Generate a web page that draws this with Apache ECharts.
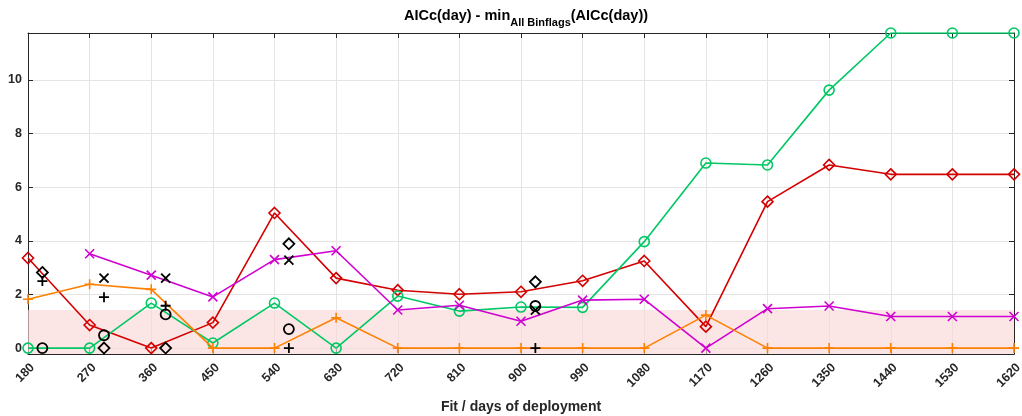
<!DOCTYPE html>
<html><head><meta charset="utf-8">
<script src="https://cdn.jsdelivr.net/npm/echarts@6/dist/echarts.min.js"></script>
<style>html,body{margin:0;padding:0;background:#fff}#c{width:1022px;height:416px}</style>
</head><body><div id="c"></div>
<script>
var days = [180,270,360,450,540,630,720,810,900,990,1080,1170,1260,1350,1440,1530,1620];
var greenCircle = [0,0,1.68,0.19,1.68,0,1.94,1.38,1.53,1.52,3.97,6.9,6.83,9.62,11.75,11.75,11.75];
var redDiamond = [3.36,0.86,0,0.95,5.04,2.61,2.16,2.01,2.1,2.51,3.25,0.8,5.46,6.83,6.48,6.48,6.48];
var magentaX = [null,3.52,2.72,1.91,3.3,3.63,1.42,1.6,1.0,1.79,1.82,0,1.47,1.57,1.18,1.18,1.18];
var orangePlus = [1.82,2.38,2.19,0,0,1.13,0,0,0,0,0,1.23,0,0,0,0,0];
var blackDays = [201,291,381,561,921];
var blackCircle = [0,0.48,1.26,0.71,1.57];
var blackDiamond = [2.82,0,0,3.89,2.47];
var blackX = [null,2.61,2.61,3.28,1.42];
var blackPlus = [2.5,1.9,1.58,0,0];
var yTicks = [0,2,4,6,8,10];
var bandTop = 1.42;

var crossPath = 'path://M0,0L10,10M10,0L0,10';
var plusPath = 'path://M5,0L5,10M0,5L10,5';
function pairs(xs, ys){ return xs.map(function(x,i){ return [x, ys[i]]; }); }
var chart = echarts.init(document.getElementById('c'));
var font = 'Liberation Sans, Arial, Helvetica, sans-serif';
var clear = 'rgba(0,0,0,0)';
function lineSeries(name, ys, color, symbol, size, z, hollow){
  return {name:name, type:'line', data:pairs(days, ys), connectNulls:false, z:z,
    symbol:symbol, symbolSize:size, showSymbol:true,
    lineStyle:{color:color, width:1.6},
    itemStyle:{color: hollow ? clear : color, borderColor:color, borderWidth:1.6, opacity:1},
    emphasis:{disabled:true}, animation:false};
}
function blackSeries(name, ys, symbol, size, hollow){
  return {name:name, type:'scatter', data:pairs(blackDays, ys).filter(function(p){return p[1]!==null;}), z:10,
    symbol:symbol, symbolSize:size,
    itemStyle:{color: hollow ? clear : '#000', borderColor:'#000', borderWidth:1.8, opacity:1},
    emphasis:{disabled:true}, animation:false};
}
var s1 = lineSeries('circle', greenCircle, '#00c864', 'circle', 10, 3, true);
s1.markArea = {silent:true, itemStyle:{color:'rgba(250,215,215,0.65)'}, data:[[{yAxis:-0.22},{yAxis:bandTop}]]};
var s2 = lineSeries('diamond', redDiamond, '#d40000', 'diamond', 11, 2, true);
var s3 = lineSeries('x', magentaX, '#d000d0', crossPath, 9, 4, false);
var s4 = lineSeries('plus', orangePlus, '#ff8000', plusPath, 10, 5, false);
var option = {
  animation:false,
  title:{left:521, textAlign:'center', top:3,
    text:'{m|AICc(day) - min}{s|All Binflags}{m|(AICc(day))}',
    textStyle:{rich:{
      m:{fontFamily:font, fontSize:14.5, fontWeight:'bold', color:'#000', lineHeight:20, verticalAlign:'top'},
      s:{fontFamily:font, fontSize:11, fontWeight:'bold', color:'#000', lineHeight:20, verticalAlign:'bottom', padding:[10,0,0,0]}
    }}},
  grid:{left:28, right:8, top:33, bottom:62, containLabel:false, outerBoundsMode:'none'},
  xAxis:[{type:'value', min:180, max:1620, interval:90, position:'bottom',
    name:'Fit / days of deployment', nameLocation:'middle', nameGap:46,
    nameTextStyle:{fontFamily:font, fontSize:14, fontWeight:'bold', color:'#262626'},
    axisLine:{show:true, onZero:false, lineStyle:{color:'#262626', width:1}},
    axisTick:{show:true, inside:true, length:5, lineStyle:{color:'#262626'}},
    axisLabel:{rotate:45, margin:7, verticalAlign:'top', fontFamily:font, fontSize:12.5, fontWeight:'bold', color:'#262626',
      formatter:function(v){return String(v);}},
    splitLine:{show:true, lineStyle:{color:'#e4e4e4', width:1}}},
   {type:'value', min:180, max:1620, interval:90, position:'top',
    axisLine:{show:true, onZero:false, lineStyle:{color:'#262626', width:1}},
    axisTick:{show:true, inside:true, length:5, lineStyle:{color:'#262626'}},
    axisLabel:{show:false}, splitLine:{show:false}}],
  yAxis:[{type:'value', min:-0.22, max:11.75, position:'left',
    axisLine:{show:true, onZero:false, lineStyle:{color:'#262626', width:1}},
    axisTick:{show:true, inside:true, length:5, customValues:yTicks, lineStyle:{color:'#262626'}},
    axisLabel:{customValues:yTicks, margin:6, fontFamily:font, fontSize:12.5, fontWeight:'bold', color:'#262626'},
    splitLine:{show:true, lineStyle:{color:'#e4e4e4', width:1}}},
   {type:'value', min:-0.22, max:11.75, position:'right',
    axisLine:{show:true, onZero:false, lineStyle:{color:'#262626', width:1}},
    axisTick:{show:true, inside:true, length:5, customValues:yTicks, lineStyle:{color:'#262626'}},
    axisLabel:{show:false}, splitLine:{show:false}}],
  series:[s1, s2, s3, s4,
    blackSeries('bc', blackCircle, 'circle', 10, true),
    blackSeries('bd', blackDiamond, 'diamond', 11, true),
    blackSeries('bx', blackX, crossPath, 9, false),
    blackSeries('bp', blackPlus, plusPath, 10, false)]
};
chart.setOption(option);
</script></body></html>
